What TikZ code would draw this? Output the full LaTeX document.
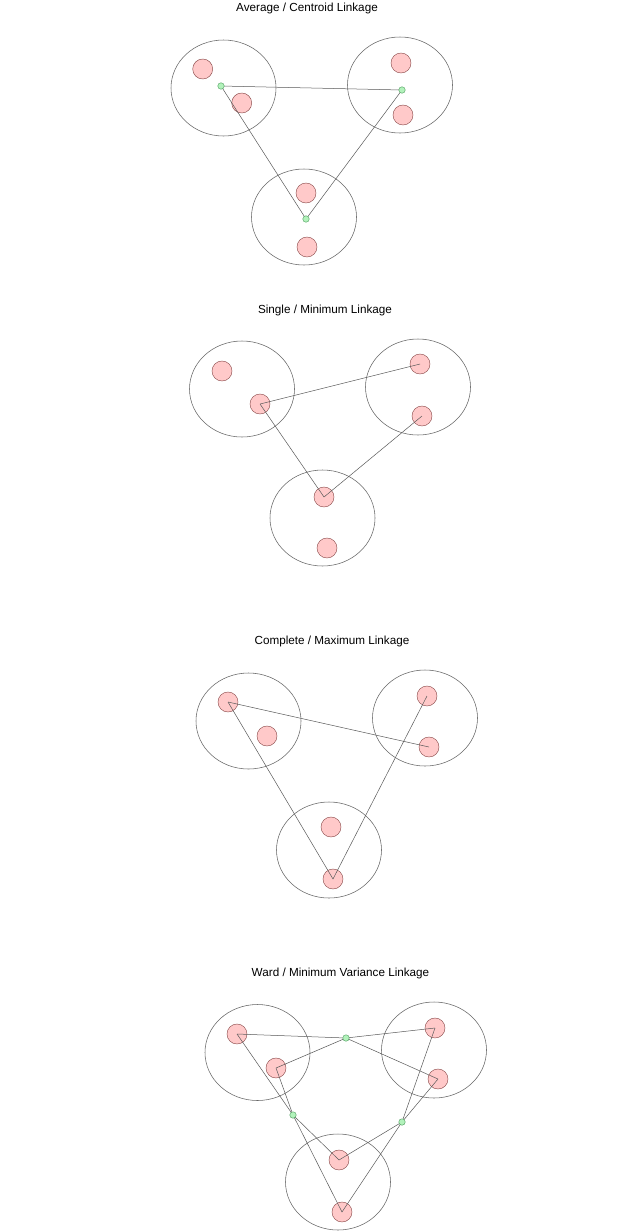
\documentclass[tikz,border=0pt]{standalone}
\usepackage{fontspec}
\setmainfont{Liberation Sans}
\usetikzlibrary{shapes.geometric}
\definecolor{pinkfill}{HTML}{FFC9C9}
\definecolor{pinkline}{HTML}{8A4A4A}
\definecolor{greenfill}{HTML}{B2F2BB}
\definecolor{greenline}{HTML}{4A9A5A}
\begin{document}
\begin{tikzpicture}[x=1pt,y=-1pt,
  cluster/.style={draw=black!60,line width=0.55pt,ellipse,minimum width=105pt,minimum height=96pt,inner sep=0pt},
  pt/.style={circle,draw=pinkline,fill=pinkfill,line width=0.45pt,minimum size=20pt,inner sep=0pt},
  cen/.style={circle,draw=greenline,fill=greenfill,line width=0.4pt,minimum size=6.5pt,inner sep=0pt},
  link/.style={draw=black!65,line width=0.5pt},
  ttl/.style={font=\fontsize{11.7}{13}\selectfont,text=black}]
\useasboundingbox (0,0) rectangle (640,1232);
\fill[white] (0,0) rectangle (640,1232);

% ---------- Panel 1: Average / Centroid ----------
\node[ttl] (t1) at (307,8) {Average / Centroid Linkage};
\node[cluster] (A1) at (223.5,88) {};
\node[cluster] (B1) at (400,85) {};
\node[cluster] (C1) at (304,217) {};
\node[pt] (a1p) at (202.7,69) {};
\node[pt] (a1q) at (241.7,103) {};
\node[pt] (b1p) at (401,63) {};
\node[pt] (b1q) at (403,115) {};
\node[pt] (c1p) at (306,193) {};
\node[pt] (c1q) at (307,247) {};
\coordinate (ga) at (221,86);
\coordinate (gb) at (402,90);
\coordinate (gc) at (306,219);
\draw[link] (ga) -- (gb);
\draw[link] (ga) -- (gc);
\draw[link] (gb) -- (gc);
\node[cen] (g1a) at (ga) {};
\node[cen] (g1b) at (gb) {};
\node[cen] (g1c) at (gc) {};

% ---------- Panel 2: Single / Minimum ----------
\node[ttl] (t2) at (325,310) {Single / Minimum Linkage};
\node[cluster] (A2) at (242,389) {};
\node[cluster] (B2) at (418,387) {};
\node[cluster] (C2) at (322.5,518) {};
\node[pt] (a2p) at (222,371) {};
\node[pt] (a2q) at (260,404) {};
\node[pt] (b2p) at (420,364) {};
\node[pt] (b2q) at (422,416) {};
\node[pt] (c2p) at (324,497) {};
\node[pt] (c2q) at (327,548) {};
\draw[link] (a2q.center) -- (b2p.center);
\draw[link] (a2q.center) -- (c2p.center);
\draw[link] (b2q.center) -- (c2p.center);

% ---------- Panel 3: Complete / Maximum ----------
\node[ttl] (t3) at (332,641) {Complete / Maximum Linkage};
\node[cluster] (A3) at (248.5,721) {};
\node[cluster] (B3) at (425,718) {};
\node[cluster] (C3) at (329,850) {};
\node[pt] (a3p) at (228,702) {};
\node[pt] (a3q) at (267,736) {};
\node[pt] (b3p) at (427,696) {};
\node[pt] (b3q) at (429,747) {};
\node[pt] (c3p) at (331,827) {};
\node[pt] (c3q) at (333,879) {};
\draw[link] (a3p.center) -- (b3q.center);
\draw[link] (a3p.center) -- (c3q.center);
\draw[link] (b3p.center) -- (c3q.center);

% ---------- Panel 4: Ward / Minimum Variance ----------
\node[ttl] (t4) at (340.5,973) {Ward / Minimum Variance Linkage};
\node[cluster] (A4) at (257.5,1052.5) {};
\node[cluster] (B4) at (434,1050) {};
\node[cluster] (C4) at (338,1182) {};
\node[pt] (a4p) at (237,1034) {};
\node[pt] (a4q) at (276,1068) {};
\node[pt] (b4p) at (435,1028) {};
\node[pt] (b4q) at (438,1079) {};
\node[pt] (c4p) at (339,1160) {};
\node[pt] (c4q) at (342,1212) {};
\coordinate (wt) at (346,1038);
\coordinate (wl) at (293,1115);
\coordinate (wr) at (402,1122);
\foreach \p in {a4p,a4q,b4p,b4q} \draw[link] (wt) -- (\p.center);
\foreach \p in {a4p,a4q,c4p,c4q} \draw[link] (wl) -- (\p.center);
\foreach \p in {b4p,b4q,c4p,c4q} \draw[link] (wr) -- (\p.center);
\node[cen] (w4t) at (wt) {};
\node[cen] (w4l) at (wl) {};
\node[cen] (w4r) at (wr) {};
\end{tikzpicture}
\end{document}
